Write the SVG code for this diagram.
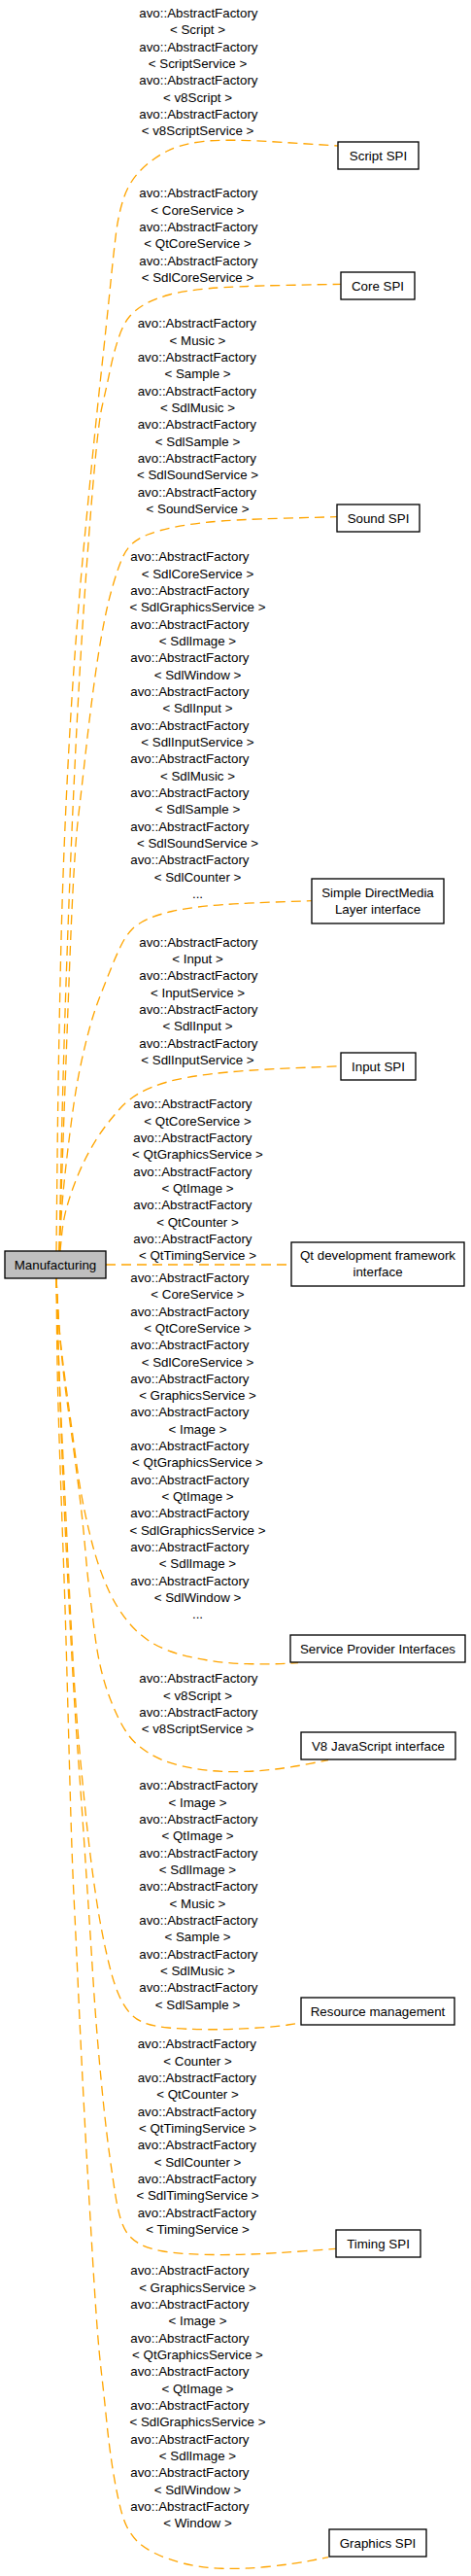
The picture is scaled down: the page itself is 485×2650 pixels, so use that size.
<svg xmlns="http://www.w3.org/2000/svg" width="485" height="2650" viewBox="0 0 485 2650">
<style>
text{font-family:"Liberation Sans",Arial,Helvetica,sans-serif;font-size:13.33px;fill:#000}
.a{text-anchor:start}
.t{text-anchor:middle}
.e{fill:none;stroke:#ffa500;stroke-width:1.33;stroke-dasharray:10,6}
.n{fill:#fff;stroke:#000;stroke-width:1.33}
.m{fill:#bfbfbf;stroke:#000;stroke-width:1.33}
</style>
<rect width="485" height="2650" fill="#fff"/>
<g id="connectors">
<g id="edge-script">
<path class="e" d="M58,1287 L59,1192 Q60,1097 62.5,987 Q65,877 71,768.5 Q77,660 87,555 Q97,450 103.5,390 Q110,330 113.5,295 Q117,260 119.5,240 Q122,220 127.5,203.5 Q133,187 145,175 Q157,163 172,155.5 Q187,148 210,145.35 Q233,142.7 290.35,146.35 L347.7,150"/>
<text class="a" x="143.3" y="17.8">avo::AbstractFactory</text>
<text class="t" x="203.5" y="35.1">&lt; Script &gt;</text>
<text class="a" x="143.3" y="52.5">avo::AbstractFactory</text>
<text class="t" x="203.5" y="69.8">&lt; ScriptService &gt;</text>
<text class="a" x="143.3" y="87.1">avo::AbstractFactory</text>
<text class="t" x="203.5" y="104.5">&lt; v8Script &gt;</text>
<text class="a" x="143.3" y="121.8">avo::AbstractFactory</text>
<text class="t" x="203.5" y="139.1">&lt; v8ScriptService &gt;</text>
</g>
<g id="edge-core">
<path class="e" d="M61,1287 L63,1192 Q65,1097 68.85,987 Q72.7,877 78,768.5 Q83.3,660 91.65,550 Q100,440 105,418.5 Q110,397 113.5,380 Q117,363 122,348 Q127,333 133.5,325.5 Q140,318 150,312.5 Q160,307 175,303 Q190,299 215,296.75 Q240,294.5 295.35,293.4 L350.7,292.3"/>
<text class="a" x="143.3" y="203.2">avo::AbstractFactory</text>
<text class="t" x="203.5" y="220.5">&lt; CoreService &gt;</text>
<text class="a" x="143.3" y="237.9">avo::AbstractFactory</text>
<text class="t" x="203.5" y="255.2">&lt; QtCoreService &gt;</text>
<text class="a" x="143.3" y="272.5">avo::AbstractFactory</text>
<text class="t" x="203.5" y="289.9">&lt; SdlCoreService &gt;</text>
</g>
<g id="edge-sound">
<path class="e" d="M61,1287 L64.35,1192 Q67.7,1097 71.85,988.5 Q76,880 80.5,841.5 Q85,803 88.5,771.5 Q92,740 96,710 Q100,680 103.5,660 Q107,640 110,626.5 Q113,613 117.5,598 Q122,583 126,574 Q130,565 136,559.5 Q142,554 152,550 Q162,546 177,542.75 Q192,539.5 216,537 Q240,534.5 293.35,533.1 L346.7,531.7"/>
<text class="a" x="141.7" y="337.2">avo::AbstractFactory</text>
<text class="t" x="203.5" y="354.5">&lt; Music &gt;</text>
<text class="a" x="141.7" y="371.9">avo::AbstractFactory</text>
<text class="t" x="203.5" y="389.2">&lt; Sample &gt;</text>
<text class="a" x="141.7" y="406.5">avo::AbstractFactory</text>
<text class="t" x="203.5" y="423.9">&lt; SdlMusic &gt;</text>
<text class="a" x="141.7" y="441.2">avo::AbstractFactory</text>
<text class="t" x="203.5" y="458.5">&lt; SdlSample &gt;</text>
<text class="a" x="141.7" y="475.8">avo::AbstractFactory</text>
<text class="t" x="203.5" y="493.2">&lt; SdlSoundService &gt;</text>
<text class="a" x="141.7" y="510.5">avo::AbstractFactory</text>
<text class="t" x="203.5" y="527.8">&lt; SoundService &gt;</text>
</g>
<g id="edge-sdl">
<path class="e" d="M61,1287 L62.5,1261 Q64,1235 67,1207.5 Q70,1180 74,1150 Q78,1120 82.5,1098.5 Q87,1077 92,1058.5 Q97,1040 103.5,1023.5 Q110,1007 115,994.5 Q120,982 125,972 Q130,962 136,956 Q142,950 152,945.5 Q162,941 177,937.5 Q192,934 216,931.75 Q240,929.5 280.35,928.1 L320.7,926.7"/>
<text class="a" x="134.3" y="577.2">avo::AbstractFactory</text>
<text class="t" x="203.5" y="594.5">&lt; SdlCoreService &gt;</text>
<text class="a" x="134.3" y="611.9">avo::AbstractFactory</text>
<text class="t" x="203.5" y="629.2">&lt; SdlGraphicsService &gt;</text>
<text class="a" x="134.3" y="646.5">avo::AbstractFactory</text>
<text class="t" x="203.5" y="663.9">&lt; SdlImage &gt;</text>
<text class="a" x="134.3" y="681.2">avo::AbstractFactory</text>
<text class="t" x="203.5" y="698.5">&lt; SdlWindow &gt;</text>
<text class="a" x="134.3" y="715.8">avo::AbstractFactory</text>
<text class="t" x="203.5" y="733.2">&lt; SdlInput &gt;</text>
<text class="a" x="134.3" y="750.5">avo::AbstractFactory</text>
<text class="t" x="203.5" y="767.8">&lt; SdlInputService &gt;</text>
<text class="a" x="134.3" y="785.2">avo::AbstractFactory</text>
<text class="t" x="203.5" y="802.5">&lt; SdlMusic &gt;</text>
<text class="a" x="134.3" y="819.8">avo::AbstractFactory</text>
<text class="t" x="203.5" y="837.2">&lt; SdlSample &gt;</text>
<text class="a" x="134.3" y="854.5">avo::AbstractFactory</text>
<text class="t" x="203.5" y="871.8">&lt; SdlSoundService &gt;</text>
<text class="a" x="134.3" y="889.1">avo::AbstractFactory</text>
<text class="t" x="203.5" y="906.5">&lt; SdlCounter &gt;</text>
<text class="t" x="203.5" y="923.8">...</text>
</g>
<g id="edge-input">
<path class="e" d="M62,1287 L63.5,1271 Q65,1255 69,1241 Q73,1227 79,1212 Q85,1197 92.5,1183.5 Q100,1170 107.5,1160 Q115,1150 123.5,1140.5 Q132,1131 143.5,1124.5 Q155,1118 172.5,1113 Q190,1108 220,1104.5 Q250,1101 300.35,1098.85 L350.7,1096.7"/>
<text class="a" x="143.3" y="973.5">avo::AbstractFactory</text>
<text class="t" x="203.5" y="990.8">&lt; Input &gt;</text>
<text class="a" x="143.3" y="1008.2">avo::AbstractFactory</text>
<text class="t" x="203.5" y="1025.5">&lt; InputService &gt;</text>
<text class="a" x="143.3" y="1042.8">avo::AbstractFactory</text>
<text class="t" x="203.5" y="1060.2">&lt; SdlInput &gt;</text>
<text class="a" x="143.3" y="1077.5">avo::AbstractFactory</text>
<text class="t" x="203.5" y="1094.8">&lt; SdlInputService &gt;</text>
</g>
<g id="edge-qt">
<path class="e" d="M109,1301 L300,1301"/>
<text class="a" x="137.3" y="1140.2">avo::AbstractFactory</text>
<text class="t" x="203.5" y="1157.5">&lt; QtCoreService &gt;</text>
<text class="a" x="137.3" y="1174.9">avo::AbstractFactory</text>
<text class="t" x="203.5" y="1192.2">&lt; QtGraphicsService &gt;</text>
<text class="a" x="137.3" y="1209.5">avo::AbstractFactory</text>
<text class="t" x="203.5" y="1226.9">&lt; QtImage &gt;</text>
<text class="a" x="137.3" y="1244.2">avo::AbstractFactory</text>
<text class="t" x="203.5" y="1261.5">&lt; QtCounter &gt;</text>
<text class="a" x="137.3" y="1278.8">avo::AbstractFactory</text>
<text class="t" x="203.5" y="1296.2">&lt; QtTimingService &gt;</text>
</g>
<g id="edge-spi">
<path class="e" d="M58,1315 L59.5,1342.5 Q61,1370 64,1395 Q67,1420 70.5,1445 Q74,1470 78,1500 Q82,1530 86.5,1551.5 Q91,1573 95.5,1590 Q100,1607 106.5,1623.5 Q113,1640 120,1651.5 Q127,1663 134.5,1671.5 Q142,1680 152,1687 Q162,1694 176,1699 Q190,1704 212.5,1707.75 Q235,1711.5 259,1711.75 Q283,1712 295,1711.35 L307,1710.7"/>
<text class="a" x="134.3" y="1318.8">avo::AbstractFactory</text>
<text class="t" x="203.5" y="1336.1">&lt; CoreService &gt;</text>
<text class="a" x="134.3" y="1353.5">avo::AbstractFactory</text>
<text class="t" x="203.5" y="1370.8">&lt; QtCoreService &gt;</text>
<text class="a" x="134.3" y="1388.1">avo::AbstractFactory</text>
<text class="t" x="203.5" y="1405.5">&lt; SdlCoreService &gt;</text>
<text class="a" x="134.3" y="1422.8">avo::AbstractFactory</text>
<text class="t" x="203.5" y="1440.1">&lt; GraphicsService &gt;</text>
<text class="a" x="134.3" y="1457.4">avo::AbstractFactory</text>
<text class="t" x="203.5" y="1474.8">&lt; Image &gt;</text>
<text class="a" x="134.3" y="1492.1">avo::AbstractFactory</text>
<text class="t" x="203.5" y="1509.4">&lt; QtGraphicsService &gt;</text>
<text class="a" x="134.3" y="1526.8">avo::AbstractFactory</text>
<text class="t" x="203.5" y="1544.1">&lt; QtImage &gt;</text>
<text class="a" x="134.3" y="1561.4">avo::AbstractFactory</text>
<text class="t" x="203.5" y="1578.8">&lt; SdlGraphicsService &gt;</text>
<text class="a" x="134.3" y="1596.1">avo::AbstractFactory</text>
<text class="t" x="203.5" y="1613.4">&lt; SdlImage &gt;</text>
<text class="a" x="134.3" y="1630.7">avo::AbstractFactory</text>
<text class="t" x="203.5" y="1648.1">&lt; SdlWindow &gt;</text>
<text class="t" x="203.5" y="1665.4">...</text>
</g>
<g id="edge-v8">
<path class="e" d="M58,1315 L59.5,1342.5 Q61,1370 63.5,1395 Q66,1420 69.5,1445 Q73,1470 77,1500 Q81,1530 83.5,1551.5 Q86,1573 88,1596.5 Q90,1620 92.5,1640 Q95,1660 97.5,1680 Q100,1700 103.5,1715 Q107,1730 111.5,1742.5 Q116,1755 121.5,1766.5 Q127,1778 133.5,1786.5 Q140,1795 152.5,1803 Q165,1811 182.5,1815.5 Q200,1820 216.5,1821.5 Q233,1823 250,1822.5 Q267,1822 283.5,1820 Q300,1818 319,1814.35 L338,1810.7"/>
<text class="a" x="143.3" y="1731.2">avo::AbstractFactory</text>
<text class="t" x="203.5" y="1748.5">&lt; v8Script &gt;</text>
<text class="a" x="143.3" y="1765.9">avo::AbstractFactory</text>
<text class="t" x="203.5" y="1783.2">&lt; v8ScriptService &gt;</text>
</g>
<g id="edge-resource">
<path class="e" d="M58,1315 L59.5,1367.5 Q61,1420 64,1480 Q67,1540 69.5,1595 Q72,1650 75,1705 Q78,1760 82.5,1807.5 Q87,1855 90,1882.5 Q93,1910 96.5,1935 Q100,1960 103,1976.5 Q106,1993 109,2006.5 Q112,2020 115,2031 Q118,2042 122.5,2052.5 Q127,2063 133,2070 Q139,2077 148,2080.75 Q157,2084.5 173.5,2086 Q190,2087.5 212.5,2087.75 Q235,2088 259,2086.5 Q283,2085 296.5,2083 L310,2081"/>
<text class="a" x="143.3" y="1841.2">avo::AbstractFactory</text>
<text class="t" x="203.5" y="1858.5">&lt; Image &gt;</text>
<text class="a" x="143.3" y="1875.9">avo::AbstractFactory</text>
<text class="t" x="203.5" y="1893.2">&lt; QtImage &gt;</text>
<text class="a" x="143.3" y="1910.5">avo::AbstractFactory</text>
<text class="t" x="203.5" y="1927.9">&lt; SdlImage &gt;</text>
<text class="a" x="143.3" y="1945.2">avo::AbstractFactory</text>
<text class="t" x="203.5" y="1962.5">&lt; Music &gt;</text>
<text class="a" x="143.3" y="1979.8">avo::AbstractFactory</text>
<text class="t" x="203.5" y="1997.2">&lt; Sample &gt;</text>
<text class="a" x="143.3" y="2014.5">avo::AbstractFactory</text>
<text class="t" x="203.5" y="2031.8">&lt; SdlMusic &gt;</text>
<text class="a" x="143.3" y="2049.2">avo::AbstractFactory</text>
<text class="t" x="203.5" y="2066.5">&lt; SdlSample &gt;</text>
</g>
<g id="edge-timing">
<path class="e" d="M58,1315 L59.5,1367.5 Q61,1420 63.25,1480 Q65.5,1540 68.25,1595 Q71,1650 74,1705 Q77,1760 80.5,1807.5 Q84,1855 86.5,1892.5 Q89,1930 91,1960 Q93,1990 95.5,2030 Q98,2070 101,2105 Q104,2140 107,2168.5 Q110,2197 113,2218.5 Q116,2240 118.5,2256 Q121,2272 124,2282 Q127,2292 131.5,2298 Q136,2304 144,2308.5 Q152,2313 167,2315.75 Q182,2318.5 207.5,2319.25 Q233,2320 258,2319 Q283,2318 314.35,2315.65 L345.7,2313.3"/>
<text class="a" x="141.7" y="2107.2">avo::AbstractFactory</text>
<text class="t" x="203.5" y="2124.5">&lt; Counter &gt;</text>
<text class="a" x="141.7" y="2141.9">avo::AbstractFactory</text>
<text class="t" x="203.5" y="2159.2">&lt; QtCounter &gt;</text>
<text class="a" x="141.7" y="2176.5">avo::AbstractFactory</text>
<text class="t" x="203.5" y="2193.9">&lt; QtTimingService &gt;</text>
<text class="a" x="141.7" y="2211.2">avo::AbstractFactory</text>
<text class="t" x="203.5" y="2228.5">&lt; SdlCounter &gt;</text>
<text class="a" x="141.7" y="2245.8">avo::AbstractFactory</text>
<text class="t" x="203.5" y="2263.2">&lt; SdlTimingService &gt;</text>
<text class="a" x="141.7" y="2280.5">avo::AbstractFactory</text>
<text class="t" x="203.5" y="2297.8">&lt; TimingService &gt;</text>
</g>
<g id="edge-graphics">
<path class="e" d="M58,1315 L58.5,1367.5 Q59,1420 61,1480 Q63,1540 65,1595 Q67,1650 68.5,1705 Q70,1760 72,1835 Q74,1910 76,1950 Q78,1990 80.5,2045 Q83,2100 85.5,2148.5 Q88,2197 90.5,2240 Q93,2283 95.5,2325 Q98,2367 100,2393.5 Q102,2420 104.5,2441.5 Q107,2463 109.5,2488 Q112,2513 115,2533 Q118,2553 122,2571.5 Q126,2590 130.5,2599 Q135,2608 141.5,2614.5 Q148,2621 160.5,2627 Q173,2633 190,2637.25 Q207,2641.5 228.5,2642.25 Q250,2643 275,2640.5 Q300,2638 319,2634.35 L338,2630.7"/>
<text class="a" x="134.3" y="2340.2">avo::AbstractFactory</text>
<text class="t" x="203.5" y="2357.5">&lt; GraphicsService &gt;</text>
<text class="a" x="134.3" y="2374.9">avo::AbstractFactory</text>
<text class="t" x="203.5" y="2392.2">&lt; Image &gt;</text>
<text class="a" x="134.3" y="2409.5">avo::AbstractFactory</text>
<text class="t" x="203.5" y="2426.9">&lt; QtGraphicsService &gt;</text>
<text class="a" x="134.3" y="2444.2">avo::AbstractFactory</text>
<text class="t" x="203.5" y="2461.5">&lt; QtImage &gt;</text>
<text class="a" x="134.3" y="2478.8">avo::AbstractFactory</text>
<text class="t" x="203.5" y="2496.2">&lt; SdlGraphicsService &gt;</text>
<text class="a" x="134.3" y="2513.5">avo::AbstractFactory</text>
<text class="t" x="203.5" y="2530.8">&lt; SdlImage &gt;</text>
<text class="a" x="134.3" y="2548.2">avo::AbstractFactory</text>
<text class="t" x="203.5" y="2565.5">&lt; SdlWindow &gt;</text>
<text class="a" x="134.3" y="2582.8">avo::AbstractFactory</text>
<text class="t" x="203.5" y="2600.2">&lt; Window &gt;</text>
</g>
</g>
<g id="node-manufacturing"><rect class="m" x="5" y="1287" width="104" height="28"/><text class="t" x="57" y="1305.5">Manufacturing</text></g>
<g id="node-script-spi"><rect class="n" x="348" y="146" width="83" height="28"/><text class="t" x="389.5" y="164.5">Script SPI</text></g>
<g id="node-core-spi"><rect class="n" x="351" y="280" width="76" height="28"/><text class="t" x="389" y="298.5">Core SPI</text></g>
<g id="node-sound-spi"><rect class="n" x="347" y="519" width="85" height="28"/><text class="t" x="389.5" y="537.5">Sound SPI</text></g>
<g id="node-sdl"><rect class="n" x="321" y="904" width="136" height="46"/><text class="t" x="389" y="922.8">Simple DirectMedia</text><text class="t" x="389" y="939.5">Layer interface</text></g>
<g id="node-input-spi"><rect class="n" x="351" y="1083" width="77" height="28"/><text class="t" x="389.5" y="1101.5">Input SPI</text></g>
<g id="node-qt"><rect class="n" x="300" y="1278" width="178" height="45"/><text class="t" x="389" y="1296.2">Qt development framework</text><text class="t" x="389" y="1312.8">interface</text></g>
<g id="node-spi"><rect class="n" x="299" y="1682" width="180" height="28"/><text class="t" x="389" y="1700.5">Service Provider Interfaces</text></g>
<g id="node-v8"><rect class="n" x="310" y="1782" width="159" height="28"/><text class="t" x="389.5" y="1800.5">V8 JavaScript interface</text></g>
<g id="node-resource"><rect class="n" x="310" y="2055" width="158" height="28"/><text class="t" x="389" y="2073.5">Resource management</text></g>
<g id="node-timing-spi"><rect class="n" x="346" y="2294" width="87" height="28"/><text class="t" x="389.5" y="2312.5">Timing SPI</text></g>
<g id="node-graphics-spi"><rect class="n" x="339" y="2602" width="100" height="28"/><text class="t" x="389" y="2620.5">Graphics SPI</text></g>
</svg>
